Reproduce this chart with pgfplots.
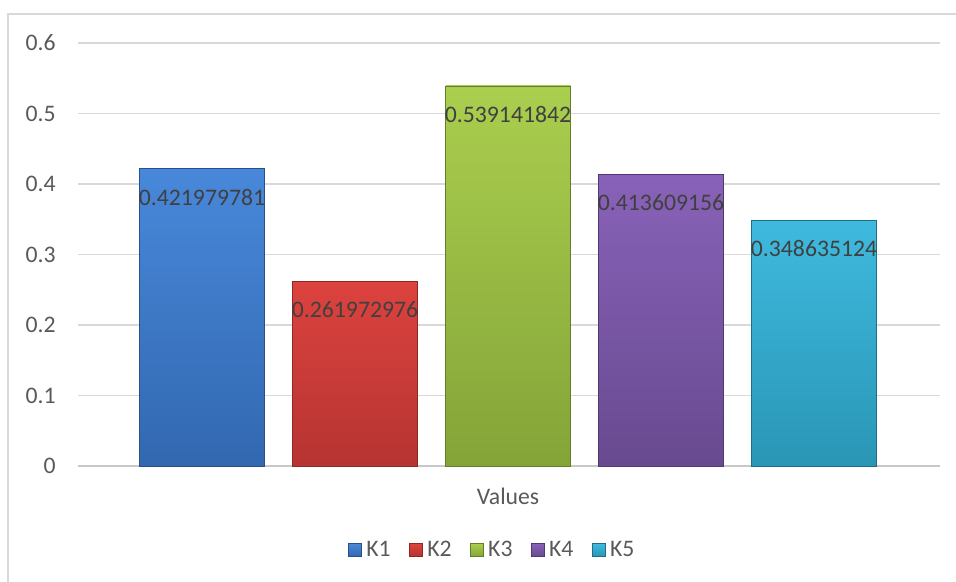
\documentclass[border=0pt]{standalone}
\usepackage{pgfplots}
\pgfplotsset{compat=1.18}
\usepackage{fontspec}
\setmainfont{Carlito}
\definecolor{gridc}{RGB}{217,217,217}
\definecolor{axisc}{RGB}{200,200,200}
\definecolor{tickc}{RGB}{89,89,89}
\definecolor{labc}{RGB}{64,64,64}
\definecolor{k1t}{RGB}{72,136,218}
\definecolor{k1b}{RGB}{50,104,176}
\definecolor{k1e}{RGB}{40,80,135}
\definecolor{k2t}{RGB}{220,66,62}
\definecolor{k2b}{RGB}{182,52,50}
\definecolor{k2e}{RGB}{140,40,38}
\definecolor{k3t}{RGB}{170,206,78}
\definecolor{k3b}{RGB}{132,164,56}
\definecolor{k3e}{RGB}{100,125,42}
\definecolor{k4t}{RGB}{136,98,184}
\definecolor{k4b}{RGB}{104,74,144}
\definecolor{k4e}{RGB}{80,56,112}
\definecolor{k5t}{RGB}{62,186,222}
\definecolor{k5b}{RGB}{42,150,182}
\definecolor{k5e}{RGB}{30,110,135}
\newcommand{\cf}{\fontsize{11.85pt}{14pt}\selectfont}
\begin{document}
\begin{tikzpicture}
\useasboundingbox (-39pt,-58pt) rectangle (439pt,233pt);
\draw[gridc, line width=0.75pt] (-35pt,-60pt) -- (-35pt,226pt) -- (441pt,226pt);
\begin{axis}[
  at={(0,0)}, anchor=south west,
  scale only axis,
  width=431pt, height=211.5pt,
  xmin=-0.8105, xmax=4.8235,
  ymin=0, ymax=0.6,
  ytick={0,0.1,0.2,0.3,0.4,0.5,0.6},
  xtick={2}, xticklabels={Values},
  major tick length=0pt,
  axis line style={draw=none},
  ymajorgrids,
  grid style={gridc, line width=0.75pt},
  yticklabel style={font=\cf, text=tickc, inner sep=0pt, xshift=-11pt},
  xticklabel style={font=\cf, text=tickc, inner sep=0pt, yshift=-11pt},
  /pgf/number format/assume math mode=true,
  yticklabel={\pgfmathprintnumber[fixed,precision=1]{\tick}},
  ybar, bar width=0.817, bar shift=0pt,
  point meta=explicit symbolic,
  nodes near coords,
  every node near coord/.append style={font=\cf, text=labc, anchor=north, inner sep=0pt, yshift=-10pt},
  legend columns=5,
  legend style={draw=none, fill=none, font=\cf, text=tickc,
    at={(axis description cs:0.482,-0.1986)}, anchor=center,
    /tikz/every even column/.append style={column sep=7pt},
    nodes={inner sep=2.2pt}},
  legend image code/.code={\draw[#1, line width=0.4pt] (0pt,-3.25pt) rectangle (6.5pt,3.25pt);},
  clip=false,
]
\draw[axisc, line width=0.9pt] (axis cs:-0.8105,0) -- (axis cs:4.8235,0);
\addplot[draw=k1e, line width=0.4pt, top color=k1t, bottom color=k1b] coordinates {(0,0.421979781) [0.421979781]};
\addlegendentry{K1}
\addplot[draw=k2e, line width=0.4pt, top color=k2t, bottom color=k2b] coordinates {(1,0.261972976) [0.261972976]};
\addlegendentry{K2}
\addplot[draw=k3e, line width=0.4pt, top color=k3t, bottom color=k3b] coordinates {(2,0.539141842) [0.539141842]};
\addlegendentry{K3}
\addplot[draw=k4e, line width=0.4pt, top color=k4t, bottom color=k4b] coordinates {(3,0.413609156) [0.413609156]};
\addlegendentry{K4}
\addplot[draw=k5e, line width=0.4pt, top color=k5t, bottom color=k5b] coordinates {(4,0.348635124) [0.348635124]};
\addlegendentry{K5}
\end{axis}
\end{tikzpicture}
\end{document}
